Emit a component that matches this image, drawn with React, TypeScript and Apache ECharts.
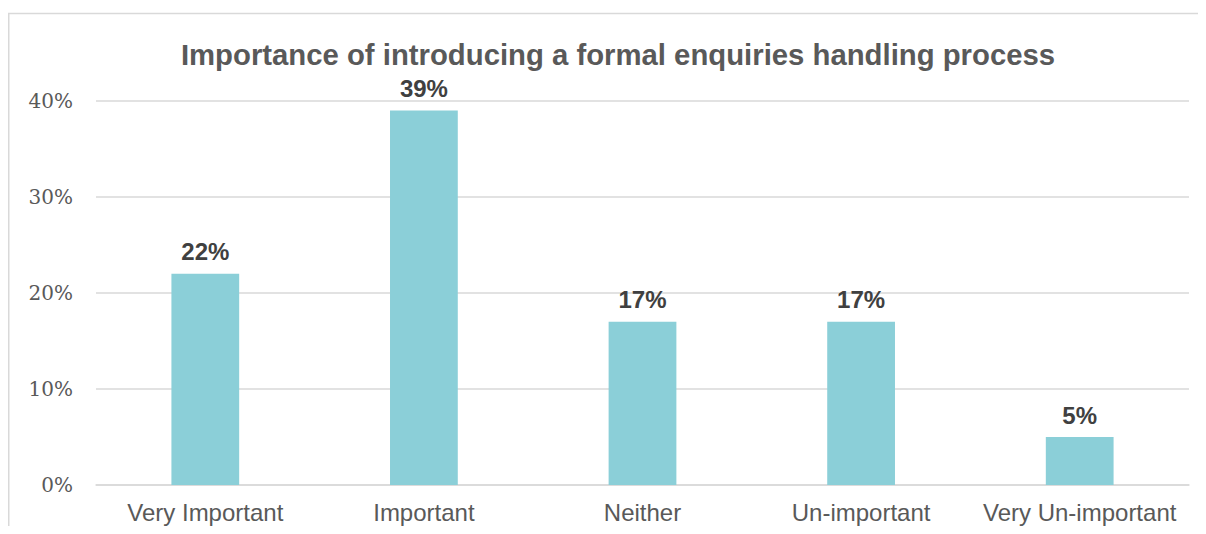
import React, { useEffect, useRef } from "react";
import * as echarts from "echarts";

const categories = ["Very Important", "Important", "Neither", "Un-important", "Very Un-important"];
const values = [22, 39, 17, 17, 5];
const yTicks = { min: 0, max: 40, interval: 10 };
const titleText = "Importance of introducing a formal enquiries handling process";

export default function App() {
  const ref = useRef<HTMLDivElement>(null);
  useEffect(() => {
    const chart = echarts.init(ref.current!, null, { renderer: "svg" });
    chart.setOption({
      animation: false,
      backgroundColor: "#ffffff",
      title: {
        text: titleText,
        left: 605,
        top: 27,
        textAlign: "center",
        textStyle: {
          fontFamily: "Liberation Sans, Arial, sans-serif",
          fontSize: 29.3,
          fontWeight: "bold",
          color: "#595959",
        },
      },
      graphic: [
        {
          type: "line",
          shape: { x1: 0.75, y1: 5.5, x2: 0.75, y2: 518 },
          style: { stroke: "#d9d9d9", lineWidth: 1.5 },
          silent: true,
          z: -1,
        },
        {
          type: "line",
          shape: { x1: 0, y1: 5.5, x2: 1198, y2: 5.5 },
          style: { stroke: "#d9d9d9", lineWidth: 1.5 },
          silent: true,
          z: -1,
        },
      ],
      grid: { left: 88, right: 17, top: 93, bottom: 41 },
      xAxis: {
        type: "category",
        data: categories,
        axisLine: { show: true, lineStyle: { color: "#d9d9d9", width: 1.5 } },
        axisTick: { show: false },
        axisLabel: {
          fontFamily: "Liberation Sans, Arial, sans-serif",
          fontSize: 24,
          color: "#595959",
          margin: 15,
          interval: 0,
        },
      },
      yAxis: {
        type: "value",
        min: yTicks.min,
        max: yTicks.max,
        interval: yTicks.interval,
        axisLine: { show: false },
        axisTick: { show: false },
        splitLine: { lineStyle: { color: "#d9d9d9", width: 1.5 } },
        axisLabel: {
          formatter: "{value}%",
          fontFamily: "DejaVu Serif, serif",
          fontSize: 20,
          color: "#595959",
          margin: 23,
        },
      },
      series: [
        {
          type: "bar",
          data: values,
          barWidth: "31%",
          itemStyle: { color: "#8BCFD8" },
          label: {
            show: true,
            position: "top",
            distance: 10,
            formatter: "{c}%",
            fontFamily: "Liberation Sans, Arial, sans-serif",
            fontSize: 24,
            fontWeight: "bold",
            color: "#404040",
          },
        },
      ],
    });
    return () => chart.dispose();
  }, []);
  return <div ref={ref} style={{ width: 1198, height: 518 }} />;
}
